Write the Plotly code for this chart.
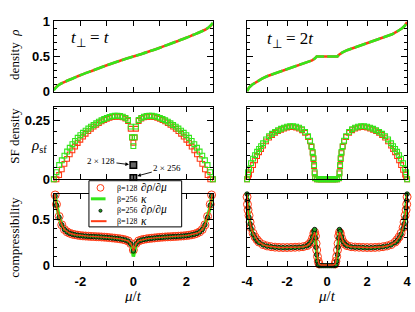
import plotly.graph_objects as go

W, H = 415, 312


def px(x):
    return x / W


def py(y):
    return 1 - y / H


RED = "#ff3a14"
GREEN = "#33e61a"
DOTFILL = "#1f9e1f"
SERIF = "Liberation Serif"
SANS = "Liberation Sans"

# ---------------- density rho (top row) ----------------
MU_D1 = [-3.0, -2.9, -2.75, -2.5, -2.25, -2.0, -1.5, -1.0, -0.5, -0.25, 0.0,
         0.25, 0.5, 1.0, 1.5, 2.0, 2.25, 2.5, 2.75, 2.9, 3.0]
RHO_B128_1 = [0.03, 0.07, 0.11, 0.155, 0.195, 0.235, 0.305, 0.375, 0.44, 0.47, 0.5,
              0.53, 0.56, 0.625, 0.695, 0.765, 0.805, 0.845, 0.89, 0.93, 0.97]
RHO_B256_1 = [0.02, 0.065, 0.11, 0.155, 0.195, 0.235, 0.305, 0.375, 0.44, 0.47, 0.5,
              0.53, 0.56, 0.625, 0.695, 0.765, 0.805, 0.845, 0.89, 0.935, 0.98]

MU_D2 = [-4.0, -3.9, -3.75, -3.5, -3.25, -3.0, -2.5, -2.0, -1.5, -1.0, -0.75, -0.6, -0.52,
         0.0, 0.52, 0.6, 0.75, 1.0, 1.5, 2.0, 2.5, 3.0, 3.25, 3.5, 3.75, 3.9, 4.0]
RHO_B128_2 = [0.01, 0.06, 0.1, 0.145, 0.185, 0.22, 0.27, 0.315, 0.36, 0.41, 0.445, 0.475, 0.5,
              0.5, 0.5, 0.525, 0.555, 0.59, 0.64, 0.685, 0.73, 0.78, 0.815, 0.855, 0.9, 0.94, 0.99]
RHO_B256_2 = [0.005, 0.06, 0.1, 0.145, 0.185, 0.22, 0.27, 0.315, 0.36, 0.41, 0.445, 0.475, 0.5,
              0.5, 0.5, 0.525, 0.555, 0.59, 0.64, 0.685, 0.73, 0.78, 0.815, 0.855, 0.9, 0.94, 0.995]

# ---------------- superfluid density (middle row) ----------------
MU_S1 = [-3.0, -2.9, -2.8, -2.7, -2.6, -2.5, -2.4, -2.3, -2.2, -2.1, -2.0, -1.9, -1.8, -1.7,
         -1.6, -1.5, -1.4, -1.3, -1.2, -1.1, -1.0, -0.9, -0.8, -0.7, -0.6, -0.5, -0.4, -0.3,
         -0.2, -0.1, -0.05, 0.0, 0.05, 0.1, 0.2, 0.3, 0.4, 0.5, 0.6, 0.7, 0.8, 0.9, 1.0, 1.1,
         1.2, 1.3, 1.4, 1.5, 1.6, 1.7, 1.8, 1.9, 2.0, 2.1, 2.2, 2.3, 2.4, 2.5, 2.6, 2.7, 2.8,
         2.9, 3.0]
SF_B128_1 = [0.0, 0.0, 0.018, 0.042, 0.065, 0.086, 0.105, 0.122, 0.138, 0.153, 0.167, 0.18,
             0.192, 0.203, 0.213, 0.222, 0.23, 0.237, 0.244, 0.25, 0.255, 0.259, 0.262, 0.264,
             0.265, 0.264, 0.261, 0.256, 0.246, 0.213, 0.176, 0.154, 0.176, 0.213, 0.246, 0.256,
             0.261, 0.264, 0.265, 0.264, 0.262, 0.259, 0.255, 0.25, 0.244, 0.237, 0.23, 0.222,
             0.213, 0.203, 0.192, 0.18, 0.167, 0.153, 0.138, 0.122, 0.105, 0.086, 0.065, 0.042,
             0.018, 0.0, 0.0]
SF_B256_1 = [0.0, 0.03, 0.06, 0.08, 0.1, 0.117, 0.133, 0.148, 0.162, 0.175, 0.186, 0.196,
             0.205, 0.214, 0.222, 0.229, 0.236, 0.243, 0.249, 0.254, 0.259, 0.263, 0.266, 0.268,
             0.268, 0.267, 0.264, 0.259, 0.25, 0.222, 0.177, 0.14, 0.177, 0.222, 0.25, 0.259,
             0.264, 0.267, 0.268, 0.268, 0.266, 0.263, 0.259, 0.254, 0.249, 0.243, 0.236, 0.229,
             0.222, 0.214, 0.205, 0.196, 0.186, 0.175, 0.162, 0.148, 0.133, 0.117, 0.1, 0.08,
             0.06, 0.03, 0.0]
MU_SYS = [0.0, 0.0]
SF_SYS = [0.06, 0.005]
SYS_LABELS = ["2 × 128", "2 × 256"]

MU_S2 = [-4.0, -3.95, -3.9, -3.8, -3.7, -3.6, -3.5, -3.4, -3.3, -3.2, -3.05, -2.9, -2.75,
         -2.6, -2.45, -2.3, -2.15, -2.0, -1.85, -1.7, -1.55, -1.4, -1.25, -1.1, -0.95, -0.85,
         -0.78, -0.72, -0.68, -0.65, -0.62, -0.6, -0.5, -0.4, -0.3, -0.2, -0.1, 0.0,
         0.1, 0.2, 0.3, 0.4, 0.5, 0.6, 0.62, 0.65, 0.68, 0.72, 0.78, 0.85, 0.95, 1.1, 1.25,
         1.4, 1.55, 1.7, 1.85, 2.0, 2.15, 2.3, 2.45, 2.6, 2.75, 2.9, 3.05, 3.2, 3.3, 3.4, 3.5,
         3.6, 3.7, 3.8, 3.9, 3.95, 4.0]
SF_B128_2 = [0.0, 0.01, 0.02, 0.04, 0.06, 0.08, 0.098, 0.114, 0.128, 0.142, 0.16, 0.176,
             0.187, 0.196, 0.203, 0.209, 0.214, 0.218, 0.22, 0.22, 0.218, 0.214, 0.207, 0.196,
             0.178, 0.16, 0.137, 0.11, 0.085, 0.055, 0.025, 0.004, 0.0, 0.0, 0.0, 0.0, 0.0, 0.0,
             0.0, 0.0, 0.0, 0.0, 0.0, 0.004, 0.025, 0.055, 0.085, 0.11, 0.137, 0.16, 0.178,
             0.196, 0.207, 0.214, 0.218, 0.22, 0.22, 0.218, 0.214, 0.209, 0.203, 0.196, 0.187,
             0.176, 0.16, 0.142, 0.128, 0.114, 0.098, 0.08, 0.06, 0.04, 0.02, 0.01, 0.0]
SF_B256_2 = [0.0, 0.03, 0.045, 0.068, 0.087, 0.102, 0.116, 0.128, 0.14, 0.152, 0.168, 0.182,
             0.192, 0.2, 0.207, 0.213, 0.218, 0.222, 0.224, 0.224, 0.222, 0.218, 0.211, 0.2,
             0.182, 0.163, 0.14, 0.115, 0.09, 0.06, 0.03, 0.005, 0.0, 0.0, 0.0, 0.0, 0.0, 0.0,
             0.0, 0.0, 0.0, 0.0, 0.0, 0.005, 0.03, 0.06, 0.09, 0.115, 0.14, 0.163, 0.182, 0.2,
             0.211, 0.218, 0.222, 0.224, 0.224, 0.222, 0.218, 0.213, 0.207, 0.2, 0.192, 0.182,
             0.168, 0.152, 0.14, 0.128, 0.116, 0.102, 0.087, 0.068, 0.045, 0.03, 0.0]

# ---------------- compressibility (bottom row) ----------------
MU_K1 = [-2.95, -2.9, -2.8, -2.7, -2.6, -2.5, -2.4, -2.3, -2.2, -2.1, -2.0, -1.9, -1.8, -1.7,
         -1.6, -1.5, -1.4, -1.3, -1.2, -1.1, -1.0, -0.9, -0.8, -0.7, -0.6, -0.5, -0.4, -0.3,
         -0.2, -0.1, 0.0, 0.1, 0.2, 0.3, 0.4, 0.5, 0.6, 0.7, 0.8, 0.9, 1.0, 1.1, 1.2, 1.3,
         1.4, 1.5, 1.6, 1.7, 1.8, 1.9, 2.0, 2.1, 2.2, 2.3, 2.4, 2.5, 2.6, 2.7, 2.8, 2.9, 2.95]
DRHO_B128_1 = [0.76, 0.66, 0.53, 0.44, 0.39, 0.365, 0.35, 0.34, 0.334, 0.329, 0.325, 0.322,
               0.32, 0.318, 0.316, 0.315, 0.313, 0.312, 0.31, 0.308, 0.306, 0.303, 0.3, 0.297,
               0.294, 0.29, 0.285, 0.278, 0.268, 0.24, 0.17, 0.24, 0.268, 0.278, 0.285, 0.29,
               0.294, 0.297, 0.3, 0.303, 0.306, 0.308, 0.31, 0.312, 0.313, 0.315, 0.316, 0.318,
               0.32, 0.322, 0.325, 0.329, 0.334, 0.34, 0.35, 0.365, 0.39, 0.44, 0.53, 0.66, 0.76]
DRHO_B256_1 = [0.75, 0.65, 0.52, 0.44, 0.39, 0.364, 0.349, 0.339, 0.333, 0.328, 0.324, 0.321,
               0.319, 0.317, 0.315, 0.314, 0.312, 0.311, 0.309, 0.307, 0.305, 0.302, 0.299,
               0.296, 0.293, 0.289, 0.284, 0.277, 0.266, 0.235, 0.16, 0.235, 0.266, 0.277, 0.284,
               0.289, 0.293, 0.296, 0.299, 0.302, 0.305, 0.307, 0.309, 0.311, 0.312, 0.314,
               0.315, 0.317, 0.319, 0.321, 0.324, 0.328, 0.333, 0.339, 0.349, 0.364, 0.39, 0.44,
               0.52, 0.65, 0.75]
MU_L1 = [-2.97, -2.92, -2.87, -2.8, -2.7, -2.6, -2.5, -2.4, -2.2, -2.0, -1.7, -1.4, -1.1, -0.8,
         -0.5, -0.3, -0.2, -0.1, -0.05, 0.0, 0.05, 0.1, 0.2, 0.3, 0.5, 0.8, 1.1, 1.4, 1.7, 2.0,
         2.2, 2.4, 2.5, 2.6, 2.7, 2.8, 2.87, 2.92, 2.97]
KAPPA_B256_1 = [0.77, 0.68, 0.6, 0.52, 0.44, 0.39, 0.365, 0.35, 0.334, 0.325, 0.319, 0.314,
                0.309, 0.3, 0.29, 0.278, 0.268, 0.24, 0.19, 0.1, 0.19, 0.24, 0.268, 0.278, 0.29,
                0.3, 0.309, 0.314, 0.319, 0.325, 0.334, 0.35, 0.365, 0.39, 0.44, 0.52, 0.6,
                0.68, 0.77]
KAPPA_B128_1 = [0.77, 0.68, 0.6, 0.52, 0.44, 0.39, 0.365, 0.35, 0.334, 0.325, 0.319, 0.314,
                0.309, 0.3, 0.29, 0.278, 0.268, 0.24, 0.21, 0.16, 0.21, 0.24, 0.268, 0.278,
                0.29, 0.3, 0.309, 0.314, 0.319, 0.325, 0.334, 0.35, 0.365, 0.39, 0.44, 0.52,
                0.6, 0.68, 0.77]

MU_K2 = [-4.0, -3.98, -3.95, -3.9, -3.85, -3.8, -3.7, -3.6, -3.5, -3.4, -3.2, -3.0, -2.8, -2.6,
         -2.4, -2.2, -2.0, -1.8, -1.6, -1.4, -1.2, -1.0, -0.9, -0.8, -0.72, -0.66, -0.62, -0.58,
         -0.55, -0.52, -0.48, -0.44, -0.4, -0.3, -0.2, -0.1, 0.0, 0.1, 0.2, 0.3, 0.4, 0.44,
         0.48, 0.52, 0.55, 0.58, 0.62, 0.66, 0.72, 0.8, 0.9, 1.0, 1.2, 1.4, 1.6, 1.8, 2.0, 2.2,
         2.4, 2.6, 2.8, 3.0, 3.2, 3.4, 3.5, 3.6, 3.7, 3.8, 3.85, 3.9, 3.95, 3.98, 4.0]
MU_C2 = [-4.0, -3.98, -3.95, -3.9, -3.85, -3.8, -3.7, -3.6, -3.5, -3.4, -3.2, -3.0, -2.8, -2.6,
         -2.4, -2.2, -2.0, -1.8, -1.6, -1.4, -1.2, -1.0, -0.9, -0.8, -0.72, -0.66, -0.62, -0.58,
         -0.55, -0.52, -0.48, -0.44, -0.4, 0.4, 0.44,
         0.48, 0.52, 0.55, 0.58, 0.62, 0.66, 0.72, 0.8, 0.9, 1.0, 1.2, 1.4, 1.6, 1.8, 2.0, 2.2,
         2.4, 2.6, 2.8, 3.0, 3.2, 3.4, 3.5, 3.6, 3.7, 3.8, 3.85, 3.9, 3.95, 3.98, 4.0]
DRHO_B128_2 = [0.74, 0.66, 0.6, 0.54, 0.47, 0.41, 0.35, 0.31, 0.28, 0.255, 0.228, 0.214,
               0.206, 0.201, 0.198, 0.197, 0.197, 0.198, 0.2, 0.202, 0.206, 0.217, 0.233, 0.258,
               0.3, 0.35, 0.36, 0.32, 0.24, 0.17, 0.1, 0.05, 0.02, 0.02, 0.05, 0.1, 0.17, 0.24,
               0.32, 0.36, 0.35, 0.3, 0.258,
               0.233, 0.217, 0.206, 0.202, 0.2, 0.198, 0.197, 0.197, 0.198, 0.201, 0.206, 0.214,
               0.228, 0.255, 0.28, 0.31, 0.35, 0.41, 0.47, 0.54, 0.6, 0.66, 0.74]
DRHO_B256_2 = [0.77, 0.7, 0.62, 0.52, 0.45, 0.4, 0.34, 0.3, 0.27, 0.25, 0.225, 0.212, 0.205,
               0.2, 0.197, 0.196, 0.196, 0.197, 0.198, 0.2, 0.204, 0.215, 0.232, 0.26, 0.31,
               0.37, 0.39, 0.3, 0.2, 0.12, 0.05, 0.015, 0.005, 0.003, 0.003, 0.003, 0.003,
               0.003, 0.003, 0.003, 0.005, 0.015, 0.05, 0.12, 0.2, 0.3, 0.39, 0.37, 0.31, 0.26,
               0.232, 0.215, 0.204, 0.2, 0.198, 0.197, 0.196, 0.196, 0.197, 0.2, 0.205, 0.212,
               0.225, 0.25, 0.27, 0.3, 0.34, 0.4, 0.45, 0.52, 0.62, 0.7, 0.77]
KAPPA_B256_2 = [0.77, 0.7, 0.62, 0.52, 0.45, 0.4, 0.34, 0.3, 0.27, 0.25, 0.225, 0.212, 0.205,
                0.2, 0.197, 0.196, 0.196, 0.197, 0.198, 0.2, 0.204, 0.215, 0.232, 0.26, 0.31,
                0.37, 0.39, 0.3, 0.2, 0.12, 0.05, 0.015, 0.005, 0.003, 0.003, 0.003, 0.003,
                0.003, 0.003, 0.003, 0.005, 0.015, 0.05, 0.12, 0.2, 0.3, 0.39, 0.37, 0.31, 0.26,
                0.232, 0.215, 0.204, 0.2, 0.198, 0.197, 0.196, 0.196, 0.197, 0.2, 0.205, 0.212,
                0.225, 0.25, 0.27, 0.3, 0.34, 0.4, 0.45, 0.52, 0.62, 0.7, 0.77]
KAPPA_B128_2 = [0.76, 0.68, 0.6, 0.53, 0.46, 0.41, 0.35, 0.31, 0.28, 0.255, 0.228, 0.214,
                0.206, 0.201, 0.198, 0.197, 0.197, 0.198, 0.2, 0.202, 0.206, 0.217, 0.233, 0.258,
                0.3, 0.35, 0.36, 0.32, 0.24, 0.17, 0.1, 0.05, 0.02, 0.01, 0.01, 0.01, 0.01,
                0.01, 0.01, 0.01, 0.02, 0.05, 0.1, 0.17, 0.24, 0.32, 0.36, 0.35, 0.3, 0.258,
                0.233, 0.217, 0.206, 0.202, 0.2, 0.198, 0.197, 0.197, 0.198, 0.201, 0.206, 0.214,
                0.228, 0.255, 0.28, 0.31, 0.35, 0.41, 0.46, 0.53, 0.6, 0.68, 0.76]

# ---------------- tick labels ----------------
X1_TICKS, X1_TEXT = [-2, 0, 2], ["-2", "0", "2"]
X2_TICKS, X2_TEXT = [-4, -2, 0, 2, 4], ["-4", "-2", "0", "2", "4"]
Y_TOP_TICKS, Y_TOP_TEXT = [0, 0.5, 1], ["0", "0.5", "1"]
Y_MID_TICKS, Y_MID_TEXT = [0, 0.25], ["0", "0.25"]
Y_BOT_TICKS, Y_BOT_TEXT = [0, 0.5], ["0", "0.5"]

fig = go.Figure()


def add(x, y, ax, **kw):
    xa = "x" if ax == 1 else f"x{ax}"
    ya = "y" if ax == 1 else f"y{ax}"
    fig.add_trace(go.Scatter(x=x, y=y, xaxis=xa, yaxis=ya, showlegend=False, **kw))


# top row
add(MU_D1, RHO_B128_1, 1, mode="lines", line=dict(color=RED, width=2.6, shape="spline"))
add(MU_D1, RHO_B256_1, 1, mode="lines", line=dict(color=GREEN, width=2.6, shape="spline", dash="12px,3px"))
add(MU_D2, RHO_B128_2, 2, mode="lines", line=dict(color=RED, width=2.6))
add(MU_D2, RHO_B256_2, 2, mode="lines", line=dict(color=GREEN, width=2.6, dash="12px,3px"))

# middle row
sq = dict(symbol="square-open", size=4.8, line=dict(width=1.1))
add(MU_S1, SF_B128_1, 3, mode="markers", marker=dict(color=RED, **sq), cliponaxis=False)
add(MU_S1, SF_B256_1, 3, mode="markers", marker=dict(color=GREEN, **sq), cliponaxis=False)
add(MU_SYS, SF_SYS, 3, mode="markers", cliponaxis=False,
    marker=dict(symbol="square", size=6.5, color="#666666", line=dict(color="black", width=1.5)))
add(MU_S2, SF_B128_2, 4, mode="markers", marker=dict(color=RED, **sq), cliponaxis=False)
add(MU_S2, SF_B256_2, 4, mode="markers", marker=dict(color=GREEN, **sq), cliponaxis=False)

# bottom row
circ = dict(symbol="circle-open", size=8, color=RED, line=dict(width=1))
dot = dict(symbol="circle", size=4.5, color=DOTFILL, line=dict(color="black", width=0.8))
for mu_c, dr128, mu_l, k256, mu_d, dr256, k128, ax in [
    (MU_K1, DRHO_B128_1, MU_L1, KAPPA_B256_1, MU_K1, DRHO_B256_1, KAPPA_B128_1, 5),
    (MU_C2, DRHO_B128_2, MU_K2, KAPPA_B256_2, MU_K2, DRHO_B256_2, KAPPA_B128_2, 6),
]:
    add(mu_c, dr128, ax, mode="markers", marker=circ, cliponaxis=False)
    add(mu_l, k256, ax, mode="lines", line=dict(color=GREEN, width=3.5))
    add(mu_d, dr256, ax, mode="markers", marker=dot, cliponaxis=False)
    add(mu_l, k128, ax, mode="lines", line=dict(color=RED, width=1.4))

# ---------------- axes ----------------
TICKFONT = dict(family=SANS, size=13, color="black", weight="bold")


def axis(domain, rng, anchor, tickvals, ticktext, minor, show=True, ticklen=6, minorlen=3,
         standoff=None):
    d = dict(domain=domain, range=rng, anchor=anchor, showticklabels=show,
             tickmode="array", tickvals=tickvals, ticktext=ticktext,
             ticks="inside", ticklen=ticklen, tickwidth=1, tickcolor="black",
             showline=True, linecolor="black", linewidth=1.4, mirror="ticks",
             showgrid=False, zeroline=False, tickfont=TICKFONT, fixedrange=True,
             ticklabeloverflow="allow",
             minor=dict(tickmode="linear", dtick=minor, tick0=0, ticks="inside",
                        ticklen=minorlen, tickwidth=1, tickcolor="black", showgrid=False))
    if standoff is not None:
        d["ticklabelstandoff"] = standoff
    return d


XL = [px(49), px(212)]
XR = [px(247), px(411)]
YT = [py(89), py(15)]
YM = [py(181), py(105)]
YB = [py(272), py(196)]

fig.update_layout(
    xaxis=axis(XL, [-3, 3], "y", X1_TICKS, X1_TEXT, 1, show=False, ticklen=5, minorlen=5),
    yaxis=axis(YT, [0, 1], "x", Y_TOP_TICKS, Y_TOP_TEXT, 0.1),
    xaxis2=axis(XR, [-4, 4], "y2", X2_TICKS, X2_TEXT, 1, show=False, ticklen=5, minorlen=5),
    yaxis2=axis(YT, [0, 1], "x2", Y_TOP_TICKS, Y_TOP_TEXT, 0.1, show=False),
    xaxis3=axis(XL, [-3, 3], "y3", X1_TICKS, X1_TEXT, 1, show=False, ticklen=5, minorlen=5),
    yaxis3=axis(YM, [0, 0.305], "x3", Y_MID_TICKS, Y_MID_TEXT, 0.05),
    xaxis4=axis(XR, [-4, 4], "y4", X2_TICKS, X2_TEXT, 1, show=False, ticklen=5, minorlen=5),
    yaxis4=axis(YM, [0, 0.305], "x4", Y_MID_TICKS, Y_MID_TEXT, 0.05, show=False),
    xaxis5=axis(XL, [-3, 3], "y5", X1_TICKS, X1_TEXT, 1, ticklen=5, minorlen=5, standoff=3),
    yaxis5=axis(YB, [0, 0.775], "x5", Y_BOT_TICKS, Y_BOT_TEXT, 0.1),
    xaxis6=axis(XR, [-4, 4], "y6", X2_TICKS, X2_TEXT, 1, ticklen=5, minorlen=5, standoff=3),
    yaxis6=axis(YB, [0, 0.775], "x6", Y_BOT_TICKS, Y_BOT_TEXT, 0.1, show=False),
)

# ---------------- annotations ----------------
ann = []


def text(x, y, t, size=13, family=SERIF, angle=0, xanchor="center", height=None):
    a = dict(x=px(x), y=py(y), xref="paper", yref="paper", text=t, showarrow=False,
             textangle=angle, xanchor=xanchor, yanchor="middle",
             font=dict(family=family, size=size, color="black"))
    if height is not None:
        a["height"] = height
    ann.append(a)


text(8.5, 50, "density  <i>ρ</i>", 13, angle=-90)
text(8.5, 135, "SF density", 13, angle=-90)
text(34, 146, "<i>ρ</i><sub>sf</sub>", 15)
text(8.5, 242, "compressibility", 13, angle=-90)
text(130.5, 303.5, "<i>μ</i>/<i>t</i>", 15, height=15)
text(329, 303.5, "<i>μ</i>/<i>t</i>", 15, height=15)
text(87, 34, "<i>t</i><sub>⊥</sub> = <i>t</i>", 17)
text(292, 35, "<i>t</i><sub>⊥</sub> = 2<i>t</i>", 17)

# system size arrows
ann.append(dict(x=px(126), y=py(165.5), xref="paper", yref="paper", text=SYS_LABELS[0],
                showarrow=True, ax=-28, ay=-3.5, arrowhead=2, arrowsize=0.8, arrowwidth=0.9,
                arrowcolor="black", font=dict(family=SERIF, size=9, color="black")))
ann.append(dict(x=px(134.5), y=py(177.5), xref="paper", yref="paper", text=SYS_LABELS[1],
                showarrow=True, ax=30, ay=-8, arrowhead=2, arrowsize=0.8, arrowwidth=0.9,
                arrowcolor="black", font=dict(family=SERIF, size=9, color="black")))

# legend (drawn by hand to keep it compact)
shapes = [
    dict(type="rect", xref="paper", yref="paper", x0=px(85), x1=px(180), y0=py(231),
         y1=py(182.5), line=dict(color="black", width=1), fillcolor="white", layer="above"),
    dict(type="circle", xref="paper", yref="paper", x0=px(93.3), x1=px(100.3), y0=py(193.5),
         y1=py(186.5), line=dict(color=RED, width=1), layer="above"),
    dict(type="line", xref="paper", yref="paper", x0=px(87), x1=px(102), y0=py(201.5),
         y1=py(201.5), line=dict(color=GREEN, width=3), layer="above"),
    dict(type="circle", xref="paper", yref="paper", x0=px(95.2), x1=px(98.4), y0=py(215.6),
         y1=py(212.4), line=dict(color="black", width=0.8), fillcolor=DOTFILL, layer="above"),
    dict(type="line", xref="paper", yref="paper", x0=px(87), x1=px(103), y0=py(225),
         y1=py(225), line=dict(color=RED, width=2), layer="above"),
]
LEG_BETA = ["β=128", "β=256", "β=256", "β=128"]
LEG_QTY = ["∂<i>ρ</i>/∂<i>μ</i>", "<i>κ</i>", "∂<i>ρ</i>/∂<i>μ</i>", "<i>κ</i>"]
for i, yy in enumerate([190, 201.5, 213.5, 225]):
    text(111.5, yy, LEG_BETA[i], 8, family=SERIF, xanchor="left", height=10)
    text(136.5, yy - 0.5, LEG_QTY[i], 11.5, xanchor="left", height=11)

fig.update_layout(
    width=W, height=H, margin=dict(l=0, r=0, t=0, b=0),
    paper_bgcolor="white", plot_bgcolor="white",
    annotations=ann, shapes=shapes, showlegend=False,
)

fig.write_html("out.html", config={"displayModeBar": False},
               post_script="document.body.style.margin='0';document.body.style.overflow='hidden';")
